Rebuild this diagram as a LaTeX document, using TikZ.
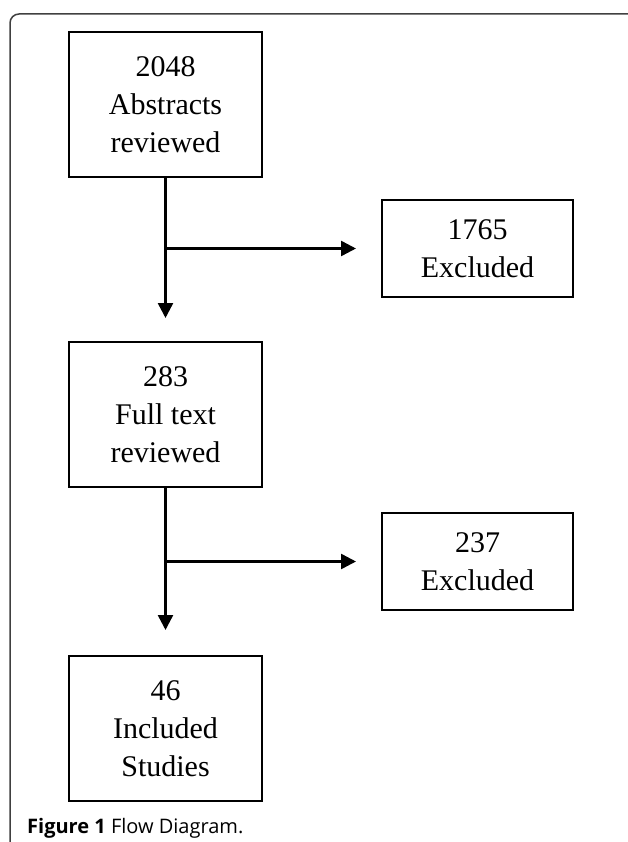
\documentclass[tikz,border=0pt]{standalone}
\usepackage{fontspec}
\setmainfont{Liberation Serif}
\newfontfamily\capfont{Open Sans}
\usetikzlibrary{arrows.meta}
\tikzset{
	stage/.style={draw, line width=2pt, anchor=north, align=center,
		minimum width=193pt, minimum height=145pt, inner sep=0pt,
		font=\fontsize{30}{38}\selectfont},
	drop/.style={stage, minimum width=191pt, minimum height=97pt},
	flow/.style={line width=2.5pt, -{Triangle[length=15pt,width=15pt]}}
}
\begin{document}
\begin{tikzpicture}[x=1pt,y=-1pt]
	\useasboundingbox (0,0) rectangle (628,842);
	% frame
	\draw[line width=1.5pt, black!75, rounded corners=9pt] (10,845) |- (632,14);
	% boxes
	\node[stage] (abs) at (165.5,31) {2048\\Abstracts\\reviewed};
	\node[stage] (full) at (165.5,341) {283\\Full text\\reviewed};
	\node[stage] (inc) at (165.5,655) {46\\Included\\Studies};
	\node[drop] (exa) at (477.5,199) {1765\\Excluded};
	\node[drop] (exb) at (477.5,512) {237\\Excluded};
	% arrows
	\draw[flow] (abs.south) -- ([yshift=23pt]full.north);
	\draw[flow] (abs.south |- exa.west) -- ([xshift=-25pt]exa.west);
	\draw[flow] (full.south) -- ([yshift=25pt]inc.north);
	\draw[flow] (full.south |- exb.west) -- ([xshift=-25pt]exb.west);
	% caption
	\node[anchor=base west, inner sep=0pt, font=\capfont\fontsize{20}{24}\selectfont]
		(cap) at (27,833) {\textbf{Figure 1} Flow Diagram.};
\end{tikzpicture}
\end{document}
